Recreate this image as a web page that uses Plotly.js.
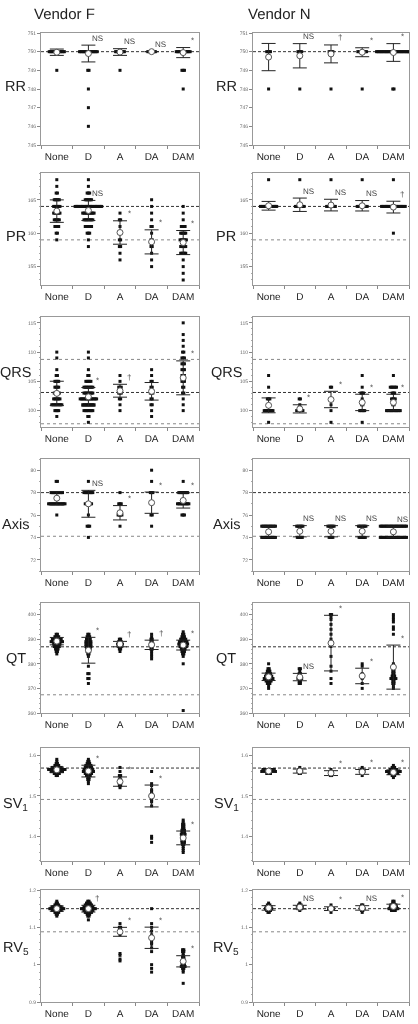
<!DOCTYPE html>
<html><head><meta charset="utf-8">
<script src="https://cdn.plot.ly/plotly-3.0.1.min.js"></script>
<style>html,body{margin:0;padding:0;background:#fff}#chart{width:418px;height:1024px;will-change:transform}
#chart svg text{text-rendering:geometricPrecision}</style>
</head><body><div id="chart"></div>
<script>
const categories = ['None','D','A','DA','DAM'];

// ---- RR ----
const rrF_pts = [[[750,13],[749,1]], [[750,15],[749,2],[748,1],[747,1],[746,1]], [[750,8],[749,1]], [[750,7]], [[750,12],[749,3],[748,1]]];
const rrF_mean = [749.97, 749.9, 749.98, 750, 749.95];
const rrF_sd = [0.17, 0.45, 0.18, 0, 0.27];
const rrF_sig = ['', 'NS', 'NS', 'NS', '*'];
const rrN_pts = [[[750,4],[748,1]], [[750,4],[748,1]], [[750,4],[748,1]], [[750,8],[748,1]], [[750,28],[748,2]]];
const rrN_mean = [749.71, 749.78, 749.88, 749.97, 749.955];
const rrN_sd = [0.73, 0.65, 0.48, 0.24, 0.475];
const rrN_sig = ['', 'NS', '†', '*', '*'];

// ---- PR ----
const prF_pts = [
 [[168,1],[167,1],[166,2],[165,5],[164,6],[163,6],[162,5],[161,4],[160,2],[159,1]],
 [[168,1],[167,1],[166,3],[165,6],[164,22],[163,10],[162,8],[161,6],[160,3],[159,1],[158,1]],
 [[163,1],[162,2],[161,1],[160,2],[159,2],[158,2],[157,1],[156,1]],
 [[165,1],[164,1],[163,1],[162,1],[161,2],[160,1],[159,2],[158,2],[157,1],[156,1],[155,1]],
 [[164,1],[163,1],[162,1],[161,4],[160,5],[159,6],[158,5],[157,5],[156,1],[155,1],[154,1],[153,1]]];
const prF_mean = [163.3, 163.4, 160.1, 158.7, 158.6];
const prF_sd = [1.68, 1.5, 1.75, 1.8, 1.8];
const prF_sig = ['', 'NS', '*', '*', '*'];
const prN_pts = [[[168,1],[164,14]], [[168,1],[164,8]], [[168,1],[164,8]], [[168,1],[164,9]], [[168,1],[164,20],[160,1]]];
const prN_mean = [164.1, 164.25, 164.2, 164.1, 163.9];
const prN_sd = [0.65, 1.0, 0.87, 0.78, 0.88];
const prN_sig = ['', 'NS', 'NS', 'NS', '†'];

// ---- QRS ----
const qrsF_pts = [
 [[110,1],[109,1],[107,1],[106,2],[105,4],[104,4],[103,5],[102,6],[101,9],[100,4],[99,1]],
 [[110,1],[109,1],[107,1],[106,2],[105,5],[104,8],[103,8],[102,14],[101,10],[100,8],[99,2],[98,1]],
 [[106,1],[105,1],[104,3],[103,3],[102,2],[101,1],[100,1]],
 [[107,1],[106,1],[105,2],[104,2],[103,3],[102,2],[101,2],[100,1],[99,1]],
 [[115,1],[113,1],[112,1],[111,1],[110,2],[109,3],[108,3],[107,3],[106,3],[105,3],[104,2],[103,2],[102,1],[101,1],[100,1]]];
const qrsF_mean = [102.95, 102.35, 103.4, 103.3, 105.6];
const qrsF_sd = [2.07, 1.6, 1.1, 1.5, 2.9];
const qrsF_sig = ['', '*', '†', '', '*'];
const qrsN_pts = [
 [[106,1],[104,1],[102,3],[100,8],[98,1]],
 [[102,2],[101,1],[100,6]],
 [[104,2],[102,1],[101,1],[100,1],[98,1]],
 [[106,1],[104,1],[103,3],[102,1],[101,2],[100,5],[98,1]],
 [[106,1],[104,6],[103,3],[102,4],[101,2],[100,12]]];
const qrsN_mean = [100.9, 100.3, 101.9, 101.4, 101.4];
const qrsN_sd = [1.27, 0.7, 1.4, 1.4, 1.4];
const qrsN_sig = ['', '*', '*', '*', '*'];

// ---- Axis ----
const axF_pts = [
 [[79,2],[78,10],[77,14],[76,1]],
 [[79,1],[78,8],[77,6],[76,1],[75,3],[74,1]],
 [[78,1],[77,3],[76,4],[75,1]],
 [[80,1],[79,1],[78,3],[76,2],[75,1]],
 [[79,1],[78,8],[77,10],[76,3]]];
const axF_mean = [77.5, 77.0, 76.2, 77.1, 77.3];
const axF_sd = [0.6, 1.2, 0.64, 0.95, 0.68];
const axF_sig = ['', 'NS', '*', '*', '*'];
const axN_pts = [[[75,12],[74,12]], [[75,6],[74,5]], [[75,6],[74,4]], [[75,7],[74,6]], [[75,22],[74,22]]];
const axN_mean = [74.5, 74.55, 74.55, 74.55, 74.5];
const axN_sd = [0.5, 0.5, 0.5, 0.5, 0.5];
const axN_sig = ['', 'NS', 'NS', 'NS', 'NS'];

// ---- QT ----
const qtF_pts = [
 [[392,2],[391,4],[390,8],[389,10],[388,6],[387,5],[386,3],[385,2],[384,1]],
 [[392,2],[391,3],[390,4],[389,5],[388,5],[387,5],[386,4],[385,3],[384,2],[383,1],[379,1],[376,2],[374,2],[372,1]],
 [[390,2],[389,3],[388,5],[387,3],[386,2],[385,1]],
 [[392,1],[391,1],[390,2],[389,2],[388,3],[387,2],[386,2],[385,1],[384,1],[383,1],[382,1]],
 [[393,1],[392,2],[391,3],[390,5],[389,7],[388,8],[387,6],[386,4],[385,3],[384,2],[383,1],[380,1],[361,1]]];
const qtF_mean = [389.2, 385.5, 388.0, 387.7, 387.6];
const qtF_sd = [1.5, 5.25, 1.1, 1.9, 2.0];
const qtF_sig = ['', '*', '†', '†', '*'];
const qtN_pts = [
 [[380,1],[378,2],[377,3],[376,4],[375,6],[374,8],[373,5],[372,3],[371,1],[370,1]],
 [[378,2],[377,1],[376,2],[375,2],[374,4],[373,2],[372,2]],
 [[400,2],[399,1],[398,1],[396,1],[394,1],[392,1],[390,1],[387,1],[383,1],[379,1],[377,1],[374,1],[372,1]],
 [[380,1],[379,1],[376,1],[375,1],[374,1],[372,1],[370,1]],
 [[400,1],[399,1],[398,1],[397,1],[395,1],[394,1],[392,1],[380,1],[379,1],[377,2],[376,2],[375,3],[374,5],[373,2],[372,2],[371,1],[370,1]]];
const qtN_mean = [374.7, 374.6, 388.4, 375.05, 378.65];
const qtN_sd = [1.5, 1.5, 11.3, 3.15, 8.95];
const qtN_sig = ['', 'NS', '*', '*', '*'];

// ---- SV1 ----
const svF_pts = [
 [[1.59,1],[1.585,1],[1.58,2],[1.575,4],[1.57,8],[1.565,14],[1.56,10],[1.555,5],[1.55,2]],
 [[1.59,1],[1.585,2],[1.58,3],[1.575,5],[1.57,6],[1.565,8],[1.56,9],[1.555,6],[1.55,4],[1.545,2],[1.54,2],[1.535,1],[1.53,1]],
 [[1.57,1],[1.56,1],[1.55,2],[1.545,1],[1.54,2],[1.535,2],[1.53,2],[1.525,2],[1.52,1]],
 [[1.56,1],[1.53,1],[1.525,1],[1.515,1],[1.51,1],[1.505,1],[1.5,1],[1.49,1],[1.485,1],[1.475,1],[1.4,1],[1.395,1],[1.385,1]],
 [[1.44,1],[1.435,1],[1.43,2],[1.425,2],[1.42,2],[1.415,3],[1.41,3],[1.405,4],[1.4,3],[1.395,3],[1.39,3],[1.385,3],[1.38,2],[1.375,1],[1.37,1],[1.365,1],[1.36,1]]];
const svF_mean = [1.564, 1.561, 1.535, 1.4995, 1.396];
const svF_sd = [0.007, 0.0145, 0.0115, 0.027, 0.017];
const svF_sig = ['', '*', '*', '*', '*'];
const svN_pts = [
 [[1.565,10],[1.56,12],[1.555,4]],
 [[1.57,1],[1.565,3],[1.56,4],[1.555,2]],
 [[1.565,1],[1.56,3],[1.555,1],[1.55,2]],
 [[1.57,1],[1.565,2],[1.56,4],[1.555,3],[1.55,1]],
 [[1.575,1],[1.57,3],[1.565,6],[1.56,12],[1.555,8],[1.55,3],[1.545,1]]];
const svN_mean = [1.561, 1.561, 1.556, 1.559, 1.558];
const svN_sd = [0.003, 0.005, 0.006, 0.006, 0.006];
const svN_sig = ['', '', '*', '*', '*'];

// ---- RV5 ----
const rvF_pts = [
 [[1.17,1],[1.165,2],[1.16,4],[1.155,8],[1.15,12],[1.145,8],[1.14,4],[1.135,2],[1.13,1]],
 [[1.17,2],[1.165,4],[1.16,6],[1.155,8],[1.15,12],[1.145,8],[1.14,6],[1.135,3],[1.13,2],[1.12,1]],
 [[1.11,1],[1.1,2],[1.095,1],[1.09,2],[1.085,2],[1.08,1],[1.03,1],[1.025,1],[1.015,1],[1.01,1]],
 [[1.15,1],[1.11,1],[1.1,1],[1.09,1],[1.08,1],[1.07,1],[1.06,1],[1.055,1],[1.045,1],[1.035,1],[1.0,1],[0.99,1],[0.98,1]],
 [[1.04,2],[1.035,2],[1.03,1],[1.025,1],[1.02,2],[1.015,2],[1.01,2],[1.005,2],[1.0,3],[0.995,4],[0.99,2],[0.985,1],[0.98,1],[0.95,1]]];
const rvF_mean = [1.15, 1.15, 1.088, 1.072, 1.009];
const rvF_sd = [0.007, 0.009, 0.012, 0.0285, 0.015];
const rvF_sig = ['', '†', '*', '*', '*'];
const rvN_pts = [
 [[1.165,1],[1.16,3],[1.155,5],[1.15,6],[1.145,4],[1.14,2]],
 [[1.165,1],[1.16,3],[1.155,5],[1.15,4],[1.145,1]],
 [[1.16,1],[1.15,5],[1.14,1]],
 [[1.16,2],[1.155,3],[1.15,4],[1.145,2],[1.14,1]],
 [[1.17,2],[1.165,2],[1.16,5],[1.155,6],[1.15,8],[1.145,4]]];
const rvN_mean = [1.152, 1.154, 1.15, 1.152, 1.156];
const rvN_sd = [0.006, 0.005, 0.005, 0.006, 0.006];
const rvN_sig = ['', 'NS', '*', 'NS', '*'];

// reference lines per row
const refDashed = [[750],[164],[103.1],[78],[386.9],[1.5685],[1.15]];
const refDotted = [[],[159],[108.75,97.75],[74.1],[367.4],[1.491],[1.088]];

const rowNames = ['RR','PR','QRS','Axis','QT','SV<sub>1</sub>','RV<sub>5</sub>'];
const vendorNames = ['Vendor F','Vendor N'];

// ---- layout config ----
const W = 418, H = 1024, STEP = 0.04;
const FONT = 'Liberation Sans, Arial, sans-serif';
const colX = [[41,199],[253,409]];
const rowY = [[33,145],[173,285],[317,427],[459,571],[603,713],[748,861],[890,1002]];
const rowRange = [[745,751],[152.25,169],[97.2,116],[71,81],[360,404.7],[1.339,1.618],[0.9,1.2]];
const rowDtick = [1,5,5,2,10,0.1,0.1];
const rowMinor = [0,1,1,1,2,0.02,0.02];
const rowLabelY = [86,236,372,524,658,804,948];
const rowLabelX = [15.5,226];

const panels = [
 [rrF_pts, rrF_mean, rrF_sd, rrF_sig], [rrN_pts, rrN_mean, rrN_sd, rrN_sig],
 [prF_pts, prF_mean, prF_sd, prF_sig], [prN_pts, prN_mean, prN_sd, prN_sig],
 [qrsF_pts, qrsF_mean, qrsF_sd, qrsF_sig], [qrsN_pts, qrsN_mean, qrsN_sd, qrsN_sig],
 [axF_pts, axF_mean, axF_sd, axF_sig], [axN_pts, axN_mean, axN_sd, axN_sig],
 [qtF_pts, qtF_mean, qtF_sd, qtF_sig], [qtN_pts, qtN_mean, qtN_sd, qtN_sig],
 [svF_pts, svF_mean, svF_sd, svF_sig], [svN_pts, svN_mean, svN_sd, svN_sig],
 [rvF_pts, rvF_mean, rvF_sd, rvF_sig], [rvN_pts, rvN_mean, rvN_sd, rvN_sig]
];

const traces = [];
const layout = {
  width: W, height: H, margin: {l:0, r:0, t:0, b:0}, showlegend: false,
  paper_bgcolor: '#fff', plot_bgcolor: '#fff', font: {family: FONT, color: '#222'},
  shapes: [], annotations: []
};

panels.forEach((p, k) => {
  const r = Math.floor(k / 2), c = k % 2;
  const xa = k === 0 ? 'x' : 'x' + (k + 1);
  const ya = k === 0 ? 'y' : 'y' + (k + 1);
  const xKey = k === 0 ? 'xaxis' : 'xaxis' + (k + 1);
  const yKey = k === 0 ? 'yaxis' : 'yaxis' + (k + 1);
  const [pts, mean, sd, sig] = p;
  const xs = [], ys = [];
  pts.forEach((grp, i) => grp.forEach(([v, n]) => {
    for (let j = 0; j < n; j++) { xs.push(i + (j - (n - 1) / 2) * STEP); ys.push(v); }
  }));
  traces.push({type: 'scatter', mode: 'markers', x: xs, y: ys, xaxis: xa, yaxis: ya,
    marker: {symbol: 'square', size: 3, color: '#111', line: {width: 0}}, hoverinfo: 'skip'});
  traces.push({type: 'scatter', mode: 'markers', x: [0,1,2,3,4], y: mean, xaxis: xa, yaxis: ya,
    error_y: {type: 'data', array: sd, visible: true, color: '#222', thickness: 1, width: 7},
    marker: {symbol: 'circle', size: 6, color: '#fff', line: {color: '#555', width: 1}}});
  layout[xKey] = {
    domain: [colX[c][0] / W, colX[c][1] / W], anchor: ya, range: [-0.5, 4.5],
    tickmode: 'array', tickvals: [0,1,2,3,4], ticktext: categories, ticks: '',
    tickfont: {size: 10, color: '#222', family: FONT}, ticklabelstandoff: 2,
    showline: true, mirror: true, linecolor: '#999', linewidth: 1,
    showgrid: false, zeroline: false, fixedrange: true,
    minor: {tickmode: 'array', tickvals: [-0.5,0.5,1.5,2.5,3.5,4.5], ticks: 'outside', ticklen: 3, tickcolor: '#888', showgrid: false}
  };
  const ycfg = {
    domain: [1 - rowY[r][1] / H, 1 - rowY[r][0] / H], anchor: xa, range: rowRange[r],
    tickmode: 'linear', tick0: 0, dtick: rowDtick[r], ticks: 'outside', ticklen: 3, tickcolor: '#888',
    tickfont: {size: 5, color: '#666', family: FONT},
    showline: true, mirror: true, linecolor: '#999', linewidth: 1,
    showgrid: false, zeroline: false, fixedrange: true
  };
  if (rowMinor[r]) ycfg.minor = {dtick: rowMinor[r], ticks: 'outside', ticklen: 1.5, tickcolor: '#aaa', showgrid: false};
  layout[yKey] = ycfg;

  refDashed[r].forEach(v => layout.shapes.push({type: 'line', layer: 'below', xref: xa + ' domain', x0: 0, x1: 1,
    yref: ya, y0: v, y1: v, line: {color: '#333', width: 1, dash: '3px,2px'}}));
  refDotted[r].forEach(v => layout.shapes.push({type: 'line', layer: 'below', xref: xa + ' domain', x0: 0, x1: 1,
    yref: ya, y0: v, y1: v, line: {color: '#888', width: 1, dash: 'dot'}}));

  sig.forEach((s, i) => {
    if (!s) return;
    layout.annotations.push({xref: xa, yref: ya, x: i, y: mean[i] + sd[i], xshift: 9, yshift: 7,
      text: s, showarrow: false, font: {size: 8, color: '#444', family: FONT}});
  });
});

rowNames.forEach((n, r) => {
  [0, 1].forEach(c => layout.annotations.push({xref: 'paper', yref: 'paper',
    x: rowLabelX[c] / W, y: 1 - rowLabelY[r] / H, text: n, showarrow: false,
    xanchor: 'center', yanchor: 'middle', font: {size: 14.5, color: '#222', family: FONT}}));
});
vendorNames.forEach((n, c) => layout.annotations.push({xref: 'paper', yref: 'paper',
  x: [32, 246][c] / W, y: 1 - 13 / H, text: n, showarrow: false, xanchor: 'left', yanchor: 'middle',
  font: {size: 15, color: '#222', family: FONT}}));

Plotly.newPlot('chart', traces, layout, {staticPlot: true, displayModeBar: false});
</script></body></html>
